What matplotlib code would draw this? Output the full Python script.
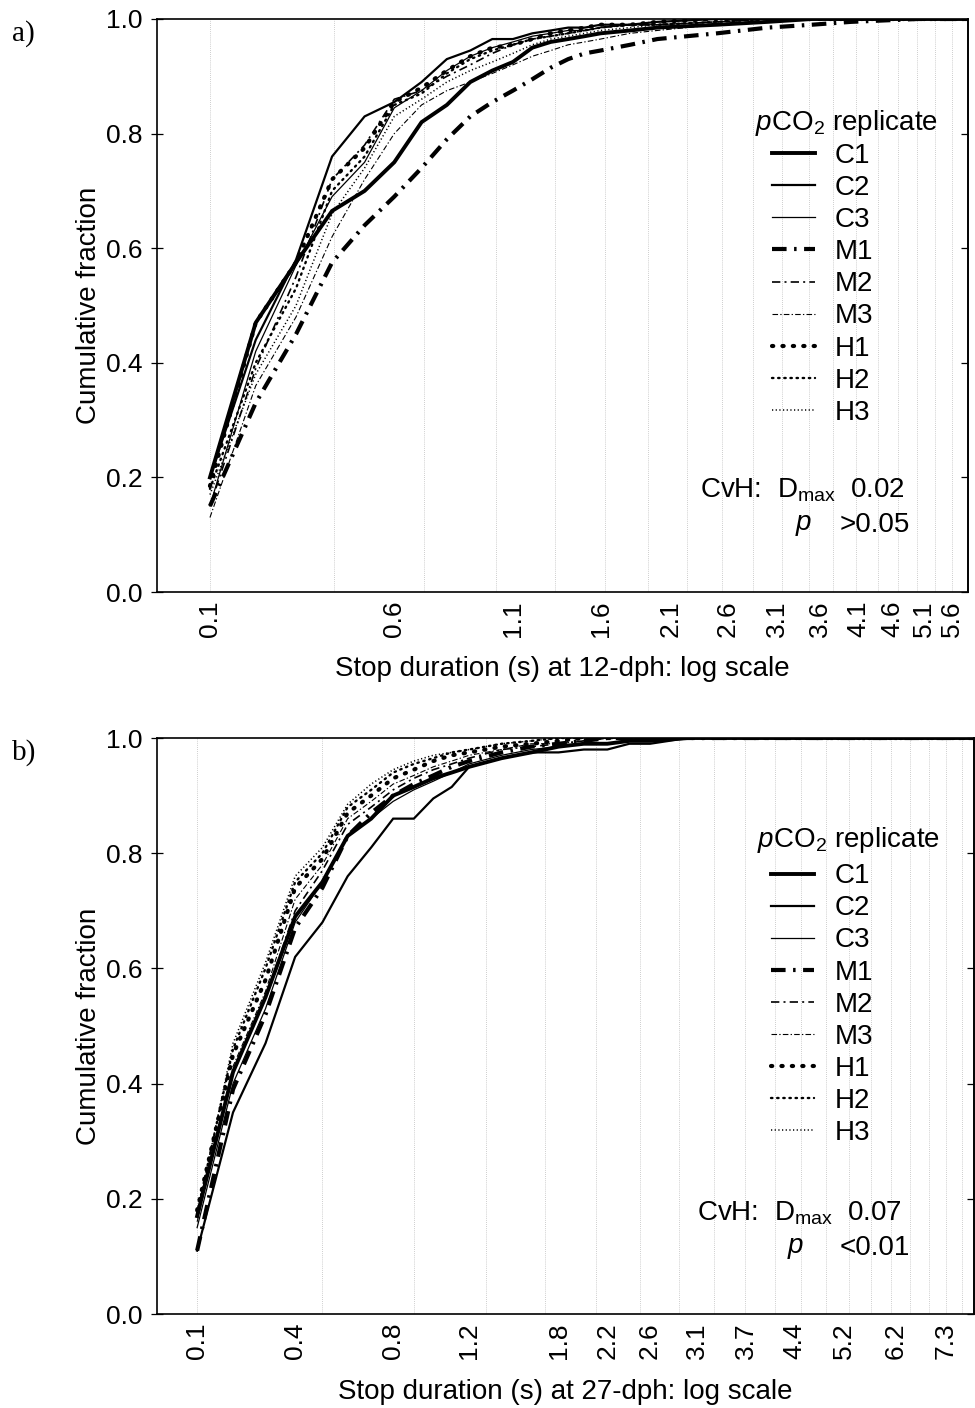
import numpy as np
import matplotlib
matplotlib.use('Agg')
import matplotlib.pyplot as plt

plt.rcParams['font.family'] = ['Liberation Sans', 'DejaVu Sans']
plt.rcParams['mathtext.fontset'] = 'custom'
plt.rcParams['mathtext.rm'] = 'Liberation Sans'
plt.rcParams['mathtext.it'] = 'Liberation Sans:italic'

series_names = ['C1', 'C2', 'C3', 'M1', 'M2', 'M3', 'H1', 'H2', 'H3']

# ---------------- panel a (12-dph) ----------------
x_a = [0.1, 0.2, 0.3, 0.4, 0.5, 0.6, 0.7, 0.8, 0.9, 1.0, 1.1, 1.2, 1.3, 1.4,
       1.5, 1.6, 1.8, 2.0, 2.5, 3.0, 3.5, 4.0, 5.0, 5.9]
C1_a = [0.20, 0.47, 0.575, 0.665, 0.70, 0.75, 0.82, 0.85, 0.89, 0.91, 0.925, 0.95, 0.96, 0.965,
        0.97, 0.975, 0.98, 0.985, 0.99, 0.995, 1.0, 1.0, 1.0, 1.0]
C2_a = [0.20, 0.44, 0.58, 0.76, 0.83, 0.855, 0.89, 0.93, 0.945, 0.965, 0.965, 0.975, 0.98, 0.985,
        0.985, 0.99, 0.99, 0.995, 1.0, 1.0, 1.0, 1.0, 1.0, 1.0]
C3_a = [0.15, 0.42, 0.57, 0.69, 0.75, 0.845, 0.875, 0.91, 0.935, 0.95, 0.96, 0.97, 0.975, 0.98,
        0.98, 0.985, 0.99, 0.99, 0.995, 1.0, 1.0, 1.0, 1.0, 1.0]
M1_a = [0.15, 0.33, 0.45, 0.575, 0.64, 0.69, 0.74, 0.79, 0.83, 0.855, 0.875, 0.895, 0.915, 0.93,
        0.94, 0.945, 0.955, 0.965, 0.975, 0.985, 0.99, 0.995, 1.0, 1.0]
M2_a = [0.15, 0.39, 0.55, 0.72, 0.78, 0.86, 0.875, 0.90, 0.92, 0.94, 0.955, 0.965, 0.97, 0.975,
        0.98, 0.985, 0.99, 0.99, 0.995, 1.0, 1.0, 1.0, 1.0, 1.0]
M3_a = [0.13, 0.36, 0.48, 0.62, 0.72, 0.80, 0.85, 0.875, 0.89, 0.905, 0.92, 0.935, 0.945, 0.955,
        0.96, 0.965, 0.975, 0.98, 0.99, 0.995, 1.0, 1.0, 1.0, 1.0]
H1_a = [0.185, 0.47, 0.575, 0.72, 0.775, 0.855, 0.88, 0.91, 0.935, 0.95, 0.955, 0.965, 0.975, 0.98,
        0.985, 0.99, 0.99, 0.995, 1.0, 1.0, 1.0, 1.0, 1.0, 1.0]
H2_a = [0.18, 0.40, 0.53, 0.70, 0.76, 0.85, 0.87, 0.905, 0.93, 0.945, 0.955, 0.965, 0.97, 0.975,
        0.98, 0.985, 0.99, 0.99, 0.995, 1.0, 1.0, 1.0, 1.0, 1.0]
H3_a = [0.17, 0.38, 0.50, 0.66, 0.74, 0.83, 0.86, 0.89, 0.91, 0.925, 0.94, 0.955, 0.965, 0.97,
        0.975, 0.98, 0.985, 0.99, 0.995, 1.0, 1.0, 1.0, 1.0, 1.0]
ticks_a = [0.1, 0.6, 1.1, 1.6, 2.1, 2.6, 3.1, 3.6, 4.1, 4.6, 5.1, 5.6]
tick_labels_a = ['0.1', '0.6', '1.1', '1.6', '2.1', '2.6', '3.1', '3.6', '4.1', '4.6', '5.1', '5.6']

# ---------------- panel b (27-dph) ----------------
x_b = [0.1, 0.2, 0.3, 0.4, 0.5, 0.6, 0.7, 0.8, 0.9, 1.0, 1.1, 1.2, 1.4, 1.6, 1.8,
       2.0, 2.2, 2.4, 2.6, 3.0, 3.5, 8.0]
C1_b = [0.17, 0.42, 0.55, 0.69, 0.75, 0.83, 0.86, 0.90, 0.915, 0.93, 0.94, 0.95, 0.965, 0.975,
        0.985, 0.99, 0.99, 0.995, 0.995, 1.0, 1.0, 1.0]
C2_b = [0.11, 0.35, 0.47, 0.62, 0.68, 0.76, 0.81, 0.86, 0.86, 0.895, 0.915, 0.95, 0.965, 0.975,
        0.975, 0.98, 0.98, 0.99, 0.99, 1.0, 1.0, 1.0]
C3_b = [0.15, 0.40, 0.53, 0.68, 0.75, 0.83, 0.86, 0.89, 0.91, 0.925, 0.94, 0.955, 0.97, 0.98,
        0.985, 0.99, 0.99, 0.995, 1.0, 1.0, 1.0, 1.0]
M1_b = [0.11, 0.39, 0.52, 0.67, 0.74, 0.83, 0.87, 0.90, 0.92, 0.935, 0.95, 0.96, 0.975, 0.985,
        0.99, 0.995, 1.0, 1.0, 1.0, 1.0, 1.0, 1.0]
M2_b = [0.17, 0.42, 0.55, 0.70, 0.77, 0.85, 0.88, 0.91, 0.93, 0.945, 0.955, 0.965, 0.98, 0.985,
        0.99, 0.995, 1.0, 1.0, 1.0, 1.0, 1.0, 1.0]
M3_b = [0.16, 0.43, 0.56, 0.72, 0.78, 0.86, 0.89, 0.92, 0.935, 0.95, 0.96, 0.97, 0.98, 0.99,
        0.99, 0.995, 1.0, 1.0, 1.0, 1.0, 1.0, 1.0]
H1_b = [0.18, 0.45, 0.58, 0.74, 0.79, 0.87, 0.90, 0.93, 0.945, 0.96, 0.97, 0.975, 0.985, 0.99,
        0.995, 1.0, 1.0, 1.0, 1.0, 1.0, 1.0, 1.0]
H2_b = [0.175, 0.46, 0.60, 0.75, 0.80, 0.88, 0.91, 0.94, 0.955, 0.965, 0.975, 0.98, 0.99, 0.995,
        1.0, 1.0, 1.0, 1.0, 1.0, 1.0, 1.0, 1.0]
H3_b = [0.17, 0.47, 0.61, 0.76, 0.81, 0.885, 0.92, 0.945, 0.96, 0.97, 0.975, 0.98, 0.99, 0.995,
        1.0, 1.0, 1.0, 1.0, 1.0, 1.0, 1.0, 1.0]
ticks_b = [0.1, 0.4, 0.8, 1.2, 1.8, 2.2, 2.6, 3.1, 3.7, 4.4, 5.2, 6.2, 7.3]
tick_labels_b = ['0.1', '0.4', '0.8', '1.2', '1.8', '2.2', '2.6', '3.1', '3.7', '4.4', '5.2', '6.2', '7.3']

y_ticks = [0.0, 0.2, 0.4, 0.6, 0.8, 1.0]
y_tick_labels = ['0.0', '0.2', '0.4', '0.6', '0.8', '1.0']

# line styles
styles = {
    'C1': dict(color='black', lw=2.8, ls='-'),
    'C2': dict(color='black', lw=1.6, ls='-'),
    'C3': dict(color='black', lw=0.9, ls='-'),
    'M1': dict(color='black', lw=3.0, ls=(0, (3.5, 1.8, 0.6, 1.8))),
    'M2': dict(color='black', lw=1.2, ls=(0, (5, 2.5, 1.2, 2.5))),
    'M3': dict(color='black', lw=0.8, ls=(0, (5, 2, 1.2, 2))),
    'H1': dict(color='black', lw=3.0, ls=(0, (0.3, 2.2)), dash_capstyle='round'),
    'H2': dict(color='black', lw=1.7, ls=(0, (0.6, 2.0)), dash_capstyle='round'),
    'H3': dict(color='black', lw=1.1, ls=(0, (0.8, 1.6))),
}

FS = 20
W, H = 975, 1408
fig = plt.figure(figsize=(W / 100, H / 100), dpi=100)


def add_panel(l, r, t, b, c, xmax, grid_step, xs, ys_list, ticks, tick_labels,
              xlabel, dval, pval, tag, leg_x, title_xy, stat_y, p_x, pv_x, cvh_x):
    ax = fig.add_axes([l / W, 1 - b / H, (r - l) / W, (b - t) / H])
    fwd = lambda x: np.log10(np.clip(np.asarray(x, dtype=float) + c, 1e-6, None))
    inv = lambda y: 10 ** np.asarray(y, dtype=float) - c
    ax.set_xscale('function', functions=(fwd, inv))
    ax.set_xlim(0, xmax)
    ax.set_ylim(0, 1.0)
    # light vertical grid
    gx = 0.1 + grid_step * np.arange(0, 40)
    gx = gx[gx < xmax - 0.01]
    for g in gx:
        ax.axvline(g, color='#bdbdbd', lw=0.6, ls=(0, (1, 1.5)), zorder=0)
    for name, ys in zip(series_names, ys_list):
        ax.plot(xs, ys, label=name, solid_joinstyle='miter', **styles[name])
    ax.set_xticks(ticks)
    ax.set_xticklabels(tick_labels, rotation=90, fontsize=19)
    ax.xaxis.set_minor_locator(matplotlib.ticker.NullLocator())
    ax.tick_params(axis='x', length=0, pad=6)
    ax.set_yticks(y_ticks)
    ax.set_yticklabels(y_tick_labels, fontsize=19)
    ax.tick_params(axis='y', direction='inout', length=9, width=0.9, right=False, pad=6)
    sec = ax.secondary_yaxis('right')
    sec.set_yticks(y_ticks)
    sec.tick_params(direction='in', length=5, width=0.9, labelright=False)
    sec.spines['right'].set_linewidth(1.2)
    ax.set_xlabel(xlabel, fontsize=FS, labelpad=14)
    ax.set_ylabel('Cumulative fraction', fontsize=FS, labelpad=3)
    for s in ax.spines.values():
        s.set_linewidth(1.2)
    ax.legend(loc='center left', bbox_to_anchor=(leg_x, 0.537), frameon=False,
              fontsize=FS, handlelength=1.55, handletextpad=0.72,
              labelspacing=0.22, borderaxespad=0, borderpad=0)
    ax.text(title_xy[0], title_xy[1], '$p$CO$_2$ replicate', transform=ax.transAxes,
            fontsize=FS, ha='left', va='center')
    ax.text(cvh_x, stat_y[0], 'CvH:  D$_\\mathregular{max}$  ' + dval, transform=ax.transAxes,
            fontsize=FS, ha='left', va='center')
    ax.text(p_x, stat_y[1], '$p$', transform=ax.transAxes, fontsize=FS, ha='left', va='center')
    ax.text(pv_x, stat_y[1], pval, transform=ax.transAxes, fontsize=FS, ha='left', va='center')
    fig.text(12 / W, 1 - (t + 15) / H, tag, fontsize=21, family='Liberation Serif',
             ha='left', va='center')
    return ax


add_panel(157, 968, 19, 592, 0.59, 5.9, 5.5 / 18, x_a,
          [C1_a, C2_a, C3_a, M1_a, M2_a, M3_a, H1_a, H2_a, H3_a],
          ticks_a, tick_labels_a, 'Stop duration (s) at 12-dph: log scale',
          '0.02', '>0.05', 'a)', leg_x=0.758, title_xy=(0.737, 0.818),
          stat_y=(0.178, 0.117), p_x=0.787, pv_x=0.842, cvh_x=0.670)
add_panel(157, 974, 738, 1314, 0.8, 8.0, 0.4, x_b,
          [C1_b, C2_b, C3_b, M1_b, M2_b, M3_b, H1_b, H2_b, H3_b],
          ticks_b, tick_labels_b, 'Stop duration (s) at 27-dph: log scale',
          '0.07', '<0.01', 'b)', leg_x=0.752, title_xy=(0.734, 0.823),
          stat_y=(0.175, 0.115), p_x=0.771, pv_x=0.836, cvh_x=0.661)

fig.savefig('out.png', dpi=100)
